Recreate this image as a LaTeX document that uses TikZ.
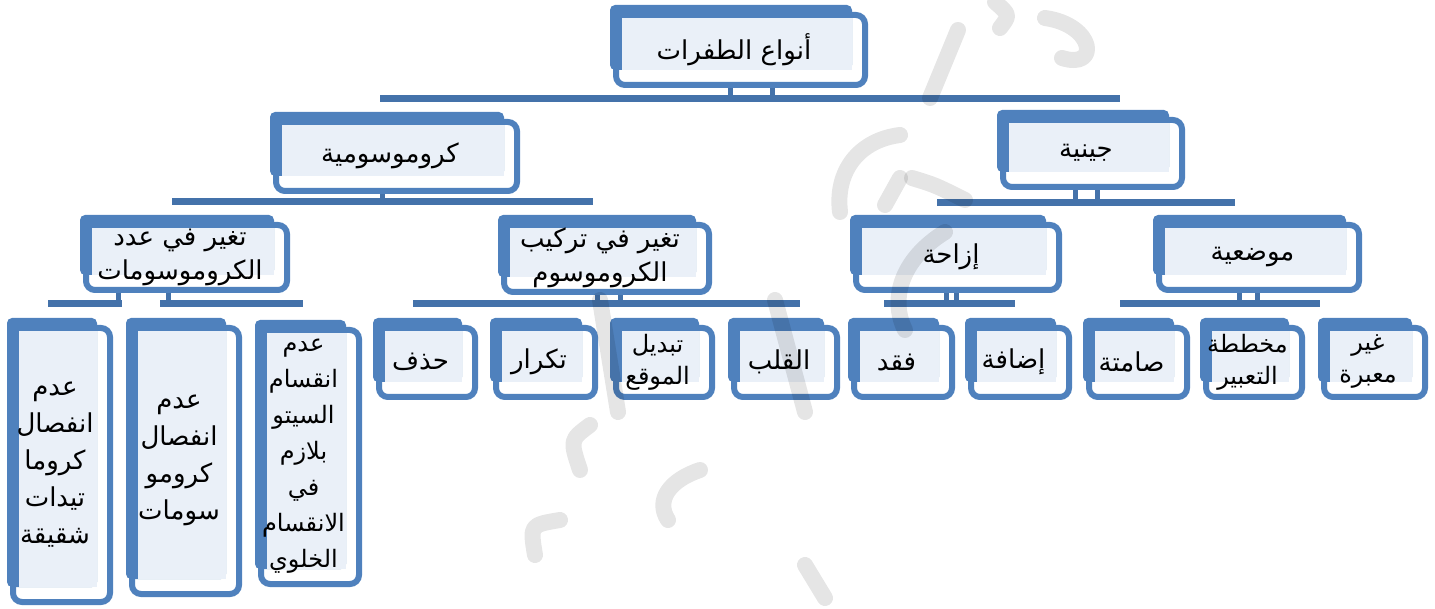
\documentclass[tikz,border=0pt]{standalone}
\usepackage{fontspec}
\newfontfamily\arabicfont[Script=Arabic]{DejaVu Sans}
\TeXXeTstate=1
\usetikzlibrary{fit}
\definecolor{bord}{RGB}{79,129,189}
\definecolor{barc}{RGB}{68,114,170}
\definecolor{pan}{RGB}{234,240,248}
\newcommand\ar[1]{\beginR #1\endR}
\tikzset{
  txt/.style={font=\arabicfont\fontsize{26pt}{36pt}\selectfont, align=center, inner sep=0pt, text=black},
  small/.style={font=\arabicfont\fontsize{24pt}{36pt}\selectfont},
  bar/.style={draw=barc, line width=7pt},
  stub/.style={draw=barc, line width=5pt},
  wmark/.style={draw=black, opacity=0.1, line width=16pt, line cap=round, line join=round}
}
\newcommand\tbox[7][]{%
  \draw[bord, line width=6pt, fill=white, rounded corners=9pt] (#3+6,#4+10) rectangle (#5-3,#6-3);
  \fill[bord, rounded corners=5pt] (#3,#4) rectangle (#5-16,#6-18);
  \fill[pan] (#3+12,#4+13) rectangle (#5-16,#6-18);
  \node[fit={(#3,#4) (#5,#6)}, inner sep=0pt] (#2) {};
  \node[txt,#1] (#2-t) at ({(#3+#5)/2-5},{(#4+#6)/2+3}) {#7};
}
\begin{document}
\begin{tikzpicture}[x=1pt,y=-1pt]
\useasboundingbox (0,0) rectangle (1435,609);
% connectors
\coordinate (b0a) at (380,99);  \coordinate (b0b) at (1120,99);
\coordinate (b1a) at (172,202); \coordinate (b1b) at (593,202);
\coordinate (b1c) at (937,203); \coordinate (b1d) at (1235,203);
\coordinate (b2a) at (48,304);  \coordinate (b2b) at (122,304);
\coordinate (b2c) at (160,304); \coordinate (b2d) at (303,304);
\coordinate (b2e) at (413,304); \coordinate (b2f) at (800,304);
\coordinate (b2g) at (884,304); \coordinate (b2h) at (1015,304);
\coordinate (b2i) at (1120,304); \coordinate (b2j) at (1320,304);
% boxes
\tbox{top}{610}{5}{868}{88}{\ar{أنواع الطفرات}}
\tbox{chromo}{270}{112}{520}{194}{\ar{كروموسومية}}
\tbox{gene}{997}{110}{1185}{190}{\ar{جينية}}
\tbox{num}{80}{215}{290}{293}{\ar{تغير في عدد}\\[-2pt]\ar{الكروموسومات}}
\tbox{struct}{498}{215}{712}{295}{\ar{تغير في تركيب}\\[-2pt]\ar{الكروموسوم}}
\tbox{shift}{850}{215}{1062}{293}{\ar{إزاحة}}
\tbox{pos}{1153}{215}{1362}{293}{\ar{موضعية}}
\tbox{hadhf}{373}{318}{478}{400}{\ar{حذف}}
\tbox{tikrar}{490}{318}{598}{400}{\ar{تكرار}}
\tbox[small]{tabdil}{610}{318}{715}{400}{\ar{تبديل}\\[-4pt]\ar{الموقع}}
\tbox{qalb}{728}{318}{840}{400}{\ar{القلب}}
\tbox{faqd}{848}{318}{955}{400}{\ar{فقد}}
\tbox{idafa}{965}{318}{1072}{400}{\ar{إضافة}}
\tbox{samita}{1083}{318}{1190}{400}{\ar{صامتة}}
\tbox[small]{mukh}{1200}{318}{1305}{400}{\ar{مخططة}\\[-4pt]\ar{التعبير}}
\tbox[small]{ghayr}{1318}{318}{1428}{400}{\ar{غير}\\[-4pt]\ar{معبرة}}
\tbox{sis}{7}{318}{113}{605}{\ar{عدم}\\[1pt]\ar{انفصال}\\[1pt]\ar{كروما}\\[1pt]\ar{تيدات}\\[1pt]\ar{شقيقة}}
\tbox{chr}{126}{318}{242}{597}{\ar{عدم}\\[1pt]\ar{انفصال}\\[1pt]\ar{كرومو}\\[1pt]\ar{سومات}}
\tbox[small]{cyto}{255}{320}{362}{587}{\ar{عدم}\\[0pt]\ar{انقسام}\\[0pt]\ar{السيتو}\\[0pt]\ar{بلازم}\\[0pt]\ar{في}\\[0pt]\ar{الانقسام}\\[0pt]\ar{الخلوي}}
% bars and stubs
\draw[bar] (b0a) -- (b0b);
\draw[stub] ([xshift=-9pt]top.south) -- ([xshift=-9pt]top.south |- b0a);
\draw[stub] ([xshift=33pt]top.south) -- ([xshift=33pt]top.south |- b0a);
\draw[bar] (b1a) -- (b1b);
\draw[stub] ([xshift=-13pt]chromo.south) -- ([xshift=-13pt]chromo.south |- b1a);
\draw[bar] (b1c) -- (b1d);
\draw[stub] ([xshift=-16pt]gene.south) -- ([xshift=-16pt]gene.south |- b1c);
\draw[stub] ([xshift=6pt]gene.south) -- ([xshift=6pt]gene.south |- b1c);
\draw[bar] (b2a) -- (b2b);
\draw[bar] (b2c) -- (b2d);
\draw[stub] ([xshift=-67pt]num.south) -- ([xshift=-67pt]num.south |- b2a);
\draw[stub] ([xshift=-17pt]num.south) -- ([xshift=-17pt]num.south |- b2c);
\draw[bar] (b2e) -- (b2f);
\draw[stub] ([xshift=-8pt]struct.south) -- ([xshift=-8pt]struct.south |- b2e);
\draw[stub] ([xshift=15pt]struct.south) -- ([xshift=15pt]struct.south |- b2e);
\draw[bar] (b2g) -- (b2h);
\draw[stub] ([xshift=-10pt]shift.south) -- ([xshift=-10pt]shift.south |- b2g);
\draw[stub] ([xshift=0pt]shift.south) -- ([xshift=0pt]shift.south |- b2g);
\draw[bar] (b2i) -- (b2j);
\draw[stub] ([xshift=-18pt]pos.south) -- ([xshift=-18pt]pos.south |- b2i);
\draw[stub] ([xshift=0pt]pos.south) -- ([xshift=0pt]pos.south |- b2i);
% watermark
\draw[wmark] (995,2) .. controls (1010,15) .. (1000,28);
\draw[wmark] (1045,18) .. controls (1095,25) and (1100,70) .. (1062,58);
\draw[wmark] (958,30) -- (930,98);
\draw[wmark] (840,212) .. controls (835,170) and (860,140) .. (900,135);
\draw[wmark] (885,205) -- (900,178);
\draw[wmark] (912,178) .. controls (935,185) .. (965,200);
\draw[wmark] (945,232) .. controls (900,260) and (890,300) .. (905,330);
\draw[wmark] (775,300) -- (805,412);
\draw[wmark] (600,300) -- (618,412);
\draw[wmark] (590,425) .. controls (570,440) .. (580,470);
\draw[wmark] (700,470) .. controls (670,480) and (655,500) .. (668,520);
\draw[wmark] (560,520) .. controls (530,525) .. (535,555);
\draw[wmark] (805,565) -- (825,598);
\end{tikzpicture}
\end{document}
